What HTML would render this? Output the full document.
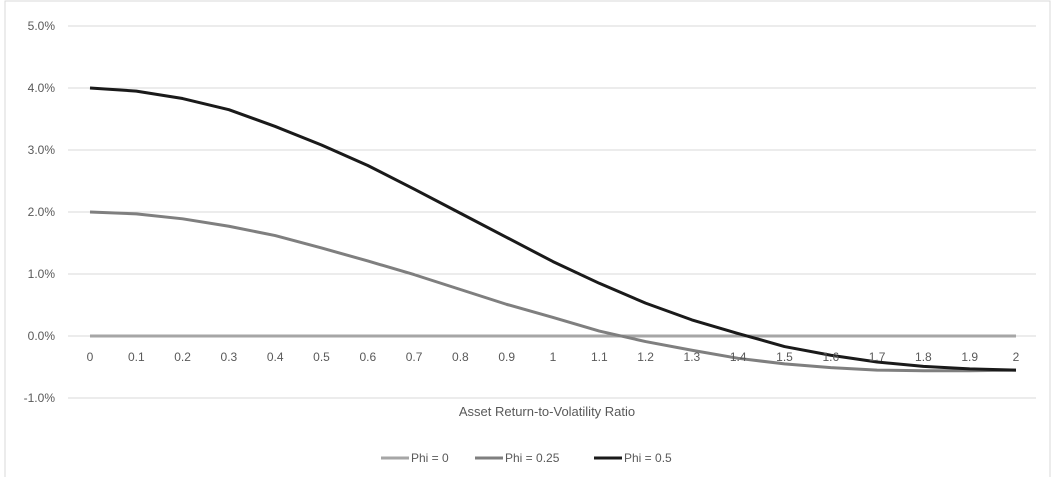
<!DOCTYPE html>
<html><head><meta charset="utf-8"><style>
body{margin:0;background:#fff;}
svg{display:block;font-family:"Liberation Sans",sans-serif;}
</style></head><body>
<svg id="chart" width="1059" height="477">
<rect x="5" y="1" width="1045" height="480" fill="#fff" stroke="#d9d9d9"/>
<g id="grid"></g><g id="series"></g><g id="labels"></g>
<text x="547" y="416" text-anchor="middle" font-size="13" fill="#595959">Asset Return-to-Volatility Ratio</text>
<g id="legend"></g>
</svg>
<script>
const categories=[0,0.1,0.2,0.3,0.4,0.5,0.6,0.7,0.8,0.9,1,1.1,1.2,1.3,1.4,1.5,1.6,1.7,1.8,1.9,2];
const phi0=[0,0,0,0,0,0,0,0,0,0,0,0,0,0,0,0,0,0,0,0,0];
const phi025=[2.0,1.97,1.89,1.77,1.62,1.42,1.21,0.99,0.75,0.51,0.3,0.08,-0.09,-0.23,-0.36,-0.45,-0.51,-0.55,-0.56,-0.56,-0.55];
const phi05=[4.0,3.95,3.83,3.65,3.38,3.08,2.75,2.37,1.98,1.59,1.2,0.85,0.53,0.26,0.04,-0.17,-0.31,-0.42,-0.49,-0.53,-0.55];
const yTicks=[-1,0,1,2,3,4,5];
const seriesNames=["Phi = 0","Phi = 0.25","Phi = 0.5"];
const NS="http://www.w3.org/2000/svg";
const x=v=>90+v*463;
const y=v=>336-v*62;
function mk(t,a,p){const e=document.createElementNS(NS,t);for(const k in a)e.setAttribute(k,a[k]);p.appendChild(e);return e;}
const grid=document.getElementById('grid'),labels=document.getElementById('labels'),series=document.getElementById('series'),legend=document.getElementById('legend');
yTicks.forEach(t=>{
 const l=mk('line',{x1:68,x2:1036,y1:y(t),y2:y(t),stroke:'#d9d9d9','stroke-width':1},grid);
 
 
 const tx=mk('text',{x:55,y:y(t)+4,'text-anchor':'end','font-size':12,fill:'#595959'},labels);
 tx.textContent=t.toFixed(1)+'%';
 
 
});
categories.forEach(c=>{
 const tx=mk('text',{x:x(c),y:361,'text-anchor':'middle','font-size':12,fill:'#595959'},labels);
 tx.textContent=String(c);
 
 
});
const data=[phi0,phi025,phi05],colors=['#a6a6a6','#7f7f7f','#1a1a1a'];
data.forEach((d,i)=>{
 const p=mk('polyline',{points:d.map((v,j)=>x(categories[j])+','+y(v)).join(' '),fill:'none',stroke:colors[i],'stroke-width':3,'stroke-linejoin':'round'},series);
 
 
});
const lx=[381,475,594];
seriesNames.forEach((n,i)=>{
 const l=mk('line',{x1:lx[i],x2:lx[i]+28,y1:458,y2:458,stroke:colors[i],'stroke-width':3},legend);
 
 
 const t=mk('text',{x:lx[i]+30,y:462,'font-size':12,fill:'#595959'},legend);
 t.textContent=n;
 
 
});
</script>
</body></html>
